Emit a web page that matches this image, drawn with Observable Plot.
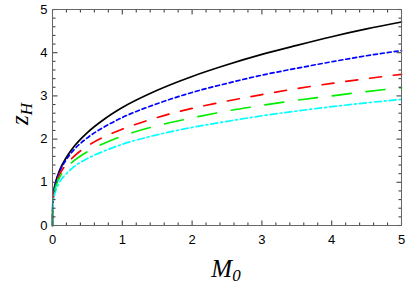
<!DOCTYPE html>
<html>
<head>
<meta charset="utf-8">
<script src="https://cdn.jsdelivr.net/npm/d3@7"></script>
<script src="https://cdn.jsdelivr.net/npm/@observablehq/plot@0.6"></script>
<style>
  html, body { margin: 0; padding: 0; background: #fff; }
</style>
</head>
<body>
<div id="chart"></div>
<script>
const m0 = [0, 0.005, 0.02, 0.05, 0.1, 0.2, 0.3, 0.5, 0.75, 1, 1.5, 2, 2.5, 3, 3.5, 4, 4.5, 5];
const zBlack = [0, 0.55, 0.80, 1.03, 1.27, 1.58, 1.81, 2.15, 2.47, 2.73, 3.13, 3.45, 3.72, 3.96, 4.17, 4.37, 4.55, 4.71];
const zBlue  = [0, 0.52, 0.77, 1.01, 1.24, 1.53, 1.74, 2.03, 2.29, 2.50, 2.82, 3.08, 3.29, 3.48, 3.64, 3.79, 3.93, 4.05];
const zRed   = [0, 0.49, 0.74, 0.96, 1.17, 1.42, 1.59, 1.84, 2.06, 2.23, 2.50, 2.71, 2.88, 3.03, 3.17, 3.29, 3.40, 3.50];
const zGreen = [0, 0.46, 0.70, 0.92, 1.11, 1.34, 1.49, 1.71, 1.91, 2.07, 2.31, 2.49, 2.65, 2.78, 2.90, 3.00, 3.10, 3.19];
const zCyan  = [0, 0.42, 0.63, 0.82, 1.00, 1.20, 1.35, 1.55, 1.73, 1.88, 2.10, 2.27, 2.41, 2.54, 2.65, 2.75, 2.84, 2.92];
const majorTicks = [0, 1, 2, 3, 4, 5];
const minorTicks = [0.2, 0.4, 0.6, 0.8, 1.2, 1.4, 1.6, 1.8, 2.2, 2.4, 2.6, 2.8, 3.2, 3.4, 3.6, 3.8, 4.2, 4.4, 4.6, 4.8];

const series = [
  {z: zBlack, color: "#000000", dash: null},
  {z: zBlue,  color: "#0000ff", dash: "4,3"},
  {z: zRed,   color: "#ff0000", dash: "12,12"},
  {z: zGreen, color: "#00ee00", dash: "19,15"},
  {z: zCyan,  color: "#00ffff", dash: "7,3,2,3"}
];

const W = 407, H = 287, ML = 52, MR = 6, MT = 9, MB = 62;
const frameColor = "#666";
const tickColor = "#444";

const lineMarks = series.map(s => Plot.line(m0.map((x, i) => ({x, y: s.z[i]})), {
  x: "x", y: "y", stroke: s.color, strokeWidth: 1.7,
  strokeDasharray: s.dash, curve: "monotone-x"
}));

// inward tick marks; length in pixels converted through the scale's extent
const yPerPx = 5 / (H - MT - MB);
const xPerPx = 5 / (W - ML - MR);
const tickMarks = (values, len) => [
  Plot.link(values, {x1: d => d, x2: d => d, y1: () => 0, y2: () => len * yPerPx, stroke: tickColor, strokeWidth: 1.1}),
  Plot.link(values, {x1: d => d, x2: d => d, y1: () => 5, y2: () => 5 - len * yPerPx, stroke: tickColor, strokeWidth: 1.1}),
  Plot.link(values, {y1: d => d, y2: d => d, x1: () => 0, x2: () => len * xPerPx, stroke: tickColor, strokeWidth: 1.1}),
  Plot.link(values, {y1: d => d, y2: d => d, x1: () => 5, x2: () => 5 - len * xPerPx, stroke: tickColor, strokeWidth: 1.1})
];

const chart = Plot.plot({
  width: W,
  height: H,
  marginLeft: ML,
  marginRight: MR,
  marginTop: MT,
  marginBottom: MB,
  style: {fontFamily: "'Liberation Sans', Arial, sans-serif", fontSize: "13px", color: "#000", background: "#fff"},
  x: {domain: [0, 5], label: null},
  y: {domain: [0, 5], label: null},
  marks: [
    ...lineMarks,
    ...tickMarks(minorTicks, 3),
    ...tickMarks(majorTicks, 5),
    Plot.frame({stroke: frameColor, strokeWidth: 1}),
    Plot.axisX(majorTicks, {anchor: "bottom", tickSize: 0, tickPadding: 9, tickFormat: d3.format("d"), label: null, fill: "#000"}),
    Plot.axisY(majorTicks, {anchor: "left", tickSize: 0, tickPadding: 5, tickFormat: d3.format("d"), label: null, fill: "#000"})
  ]
});

const svg = d3.select(chart);
const serif = "'Liberation Serif', 'Times New Roman', serif";
const xl = svg.append("text")
  .attr("x", 226).attr("y", 277)
  .attr("text-anchor", "middle")
  .attr("font-family", serif).attr("font-style", "italic").attr("font-size", 25)
  .attr("fill", "#000");
xl.append("tspan").text("M");
xl.append("tspan").attr("font-size", 17).attr("dy", 4).text("0");

const yl = svg.append("text")
  .attr("transform", "translate(28,114) rotate(-90)")
  .attr("text-anchor", "middle")
  .attr("font-family", serif).attr("font-style", "italic").attr("font-size", 25)
  .attr("fill", "#000");
yl.append("tspan").text("z");
yl.append("tspan").attr("font-size", 17).attr("dy", 4).text("H");

document.getElementById("chart").appendChild(chart);
</script>
</body>
</html>
